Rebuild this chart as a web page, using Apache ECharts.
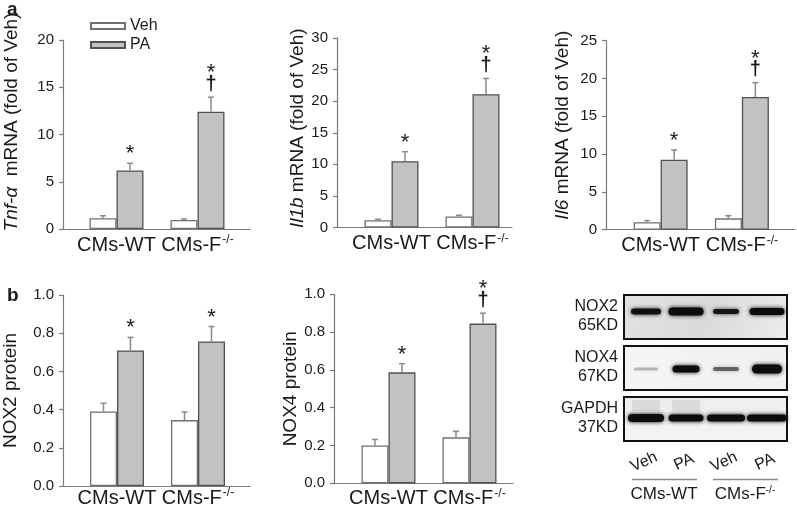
<!DOCTYPE html>
<html><head><meta charset="utf-8">
<script src="https://cdn.jsdelivr.net/npm/echarts@6/dist/echarts.min.js"></script>
<style>html,body{margin:0;padding:0;background:#fff}#c{width:797px;height:510px}</style>
</head><body><div id="c"></div>
<script>
// ---------------- data ----------------
const categories = ['CMs-WT', 'CMs-F'];
const seriesNames = ['Veh', 'PA'];

const tnfVeh = [1.15, 0.95];   const tnfVehErr = [0.25, 0.12];
const tnfPA  = [6.2, 12.4];    const tnfPAErr  = [0.75, 1.55];
const tnfSig = ['*', '*†'];

const il1bVeh = [1.15, 1.75];  const il1bVehErr = [0.15, 0.2];
const il1bPA  = [10.5, 21.1];  const il1bPAErr  = [1.5, 2.5];
const il1bSig = ['*', '*†'];

const il6Veh = [1.0, 1.5];     const il6VehErr = [0.2, 0.35];
const il6PA  = [9.25, 17.55];  const il6PAErr  = [1.3, 1.9];
const il6Sig = ['*', '*†'];

const nox2Veh = [0.39, 0.345]; const nox2VehErr = [0.043, 0.042];
const nox2PA  = [0.71, 0.757]; const nox2PAErr  = [0.068, 0.078];
const nox2Sig = ['*', '*'];

const nox4Veh = [0.2, 0.243];  const nox4VehErr = [0.032, 0.032];
const nox4PA  = [0.587, 0.845];const nox4PAErr  = [0.046, 0.055];
const nox4Sig = ['*', '*†'];

const yTicks1 = [0, 20, 5];
const yTicks2 = [0, 30, 5];
const yTicks3 = [0, 25, 5];
const yTicks4 = [0, 1, 0.2];
const yTicks5 = [0, 1, 0.2];

const blotRows = ['NOX2', 'NOX4', 'GAPDH'];
const blotKD = ['65KD', '67KD', '37KD'];
const laneLabels = ['Veh', 'PA', 'Veh', 'PA'];
const blotGroups = ['CMs-WT', 'CMs-F'];
// band appearance per row (width, thickness, intensity) for the 4 lanes
const bandW = [[30, 35, 26, 35], [24, 27, 26, 30], [36, 35, 38, 40]];
const bandH = [[6, 8, 5, 7], [3, 7, 4, 9], [8, 7, 7, 7]];
const bandI = [[0.95, 1, 0.9, 1], [0.25, 1, 0.55, 1], [1, 1, 1, 1]];

// ---------------- layout ----------------
const FONT = "'Liberation Sans', Arial, sans-serif";
const TXT = '#1a1a1a';
const AX = '#7a7a7a';
const BW = 27;

const panels = [
  {veh: tnfVeh, vehErr: tnfVehErr, pa: tnfPA, paErr: tnfPAErr, sig: tnfSig, ticks: yTicks1, dec: 0,
   name: '{i|Tnf-α}  mRNA (fold of Veh)', pad: 25, gap: 42,
   outer: {left: 63, top: 40, width: 187, height: 189}, inner: {left: 76, width: 162}, labMargin: 5},
  {veh: il1bVeh, vehErr: il1bVehErr, pa: il1bPA, paErr: il1bPAErr, sig: il1bSig, ticks: yTicks2, dec: 0,
   name: '{i|Il1b} mRNA (fold of Veh)', pad: 9, gap: 25,
   outer: {left: 337, top: 38, width: 175, height: 189.5}, inner: {left: 351, width: 162}, labMargin: 5},
  {veh: il6Veh, vehErr: il6VehErr, pa: il6PA, paErr: il6PAErr, sig: il6Sig, ticks: yTicks3, dec: 0,
   name: '{i|Il6} mRNA (fold of Veh)', pad: 20, gap: 34,
   outer: {left: 606, top: 40.7, width: 189, height: 189}, inner: {left: 620, width: 162.5}, labMargin: 5},
  {veh: nox2Veh, vehErr: nox2VehErr, pa: nox2PA, paErr: nox2PAErr, sig: nox2Sig, ticks: yTicks4, dec: 1,
   name: 'NOX2 protein', pad: 0, gap: 43,
   outer: {left: 63, top: 295, width: 187, height: 191}, inner: {left: 76.5, width: 162}, labMargin: 1},
  {veh: nox4Veh, vehErr: nox4VehErr, pa: nox4PA, paErr: nox4PAErr, sig: nox4Sig, ticks: yTicks5, dec: 1,
   name: 'NOX4 protein', pad: 0, gap: 34,
   outer: {left: 334, top: 294.3, width: 179, height: 189}, inner: {left: 348, width: 162}, labMargin: 4}
];

const grid = [], xAxis = [], yAxis = [], series = [];

function catLabel(v) {
  return v === 'CMs-F' ? '{n|CMs-F}{s|-/-}' : '{n|' + v + '}';
}

function errSeries(idx, vals, errs, sigs, side) {
  return {
    type: 'custom', xAxisIndex: idx, yAxisIndex: idx, clip: false, z: 5,
    silent: true,
    data: vals.map((v, i) => [i, v, errs[i]]),
    renderItem: function (params, api) {
      const i = api.value(0), v = api.value(1), e = api.value(2);
      const b = api.coord([i, v]);
      const t = api.coord([i, v + e]);
      const cx = b[0] + side * BW / 2;
      const ch = [
        {type: 'line', shape: {x1: cx, y1: b[1], x2: cx, y2: t[1]}, style: {stroke: '#8a8a8a', lineWidth: 1.5}},
        {type: 'line', shape: {x1: cx - 3, y1: t[1], x2: cx + 3, y2: t[1]}, style: {stroke: '#8a8a8a', lineWidth: 1.5}}
      ];
      if (sigs) {
        const s = sigs[params.dataIndex];
        if (s.indexOf('†') >= 0) {
          ch.push({type: 'text', style: {text: '†', x: cx, y: t[1] - 3, align: 'center', verticalAlign: 'bottom',
            font: 'bold 20px ' + FONT, fill: TXT}});
          ch.push({type: 'text', style: {text: '*', x: cx, y: t[1] - 13, align: 'center', verticalAlign: 'bottom',
            font: '22px ' + FONT, fill: TXT}});
        } else {
          ch.push({type: 'text', style: {text: '*', x: cx, y: t[1] + 2, align: 'center', verticalAlign: 'bottom',
            font: '22px ' + FONT, fill: TXT}});
        }
      }
      return {type: 'group', children: ch};
    }
  };
}

panels.forEach((p, k) => {
  const o = 2 * k, n = 2 * k + 1;
  grid.push({left: p.outer.left, top: p.outer.top, width: p.outer.width, height: p.outer.height});
  grid.push({left: p.inner.left, top: p.outer.top, width: p.inner.width, height: p.outer.height});
  xAxis.push({type: 'value', gridIndex: o, min: 0, max: 1, axisLine: {show: true, lineStyle: {color: AX, width: 1.2}},
    axisTick: {show: false}, axisLabel: {show: false}, splitLine: {show: false}});
  xAxis.push({type: 'category', gridIndex: n, data: categories, axisLine: {show: false}, axisTick: {show: false},
    axisLabel: {margin: p.labMargin, interval: 0, hideOverlap: false, formatter: catLabel, color: TXT,
      rich: {n: {fontSize: 20, fontFamily: FONT, color: TXT, lineHeight: 22},
             s: {fontSize: 12, fontFamily: FONT, color: TXT, verticalAlign: 'top', lineHeight: 12, padding: [0, 0, 0, 1]}}}});
  yAxis.push({type: 'value', gridIndex: o, min: p.ticks[0], max: p.ticks[1], interval: p.ticks[2],
    axisLine: {show: true, lineStyle: {color: AX, width: 1.2}},
    axisTick: {show: true, inside: false, length: 4, lineStyle: {color: AX, width: 1.2}},
    axisLabel: {margin: 9, fontSize: 15, color: TXT, fontFamily: FONT, formatter: v => v.toFixed(p.dec)},
    splitLine: {show: false},
    name: p.name, nameLocation: 'middle', nameRotate: 90, nameGap: p.gap,
    nameTextStyle: {fontSize: 19, color: TXT, fontFamily: FONT, padding: [0, 0, 0, p.pad],
      rich: {i: {fontSize: 19, fontStyle: 'italic', color: TXT, fontFamily: FONT}}}});
  yAxis.push({type: 'value', gridIndex: n, min: p.ticks[0], max: p.ticks[1], show: false});
  series.push({type: 'bar', name: seriesNames[0], xAxisIndex: n, yAxisIndex: n, data: p.veh, barWidth: BW, barGap: '0%',
    itemStyle: {color: '#ffffff', borderColor: '#707070', borderWidth: 1.3}, silent: true});
  series.push({type: 'bar', name: seriesNames[1], xAxisIndex: n, yAxisIndex: n, data: p.pa, barWidth: BW, barGap: '0%',
    itemStyle: {color: '#c2c2c2', borderColor: '#525252', borderWidth: 1.3}, silent: true});
  series.push(errSeries(n, p.veh, p.vehErr, null, -1));
  series.push(errSeries(n, p.pa, p.paErr, p.sig, 1));
});

// ---------------- western blot (picture panel) ----------------
const graphic = [];
graphic.push({type: 'text', left: 7, top: 0, style: {text: 'a', font: 'bold 19px ' + FONT, fill: TXT}});
graphic.push({type: 'text', left: 7, top: 286, style: {text: 'b', font: 'bold 19px ' + FONT, fill: TXT}});

const boxX = 624, boxW = 163, boxH = 44;
const boxTop = [295, 346, 397];
const bandOffset = [16.5, 23, 21];
const laneX = [646, 686, 726, 767];
const boxFill = [
  new echarts.graphic.LinearGradient(0, 0, 1, 1, [{offset: 0, color: '#e2e2e2'}, {offset: 0.5, color: '#dadada'}, {offset: 1, color: '#ececec'}]),
  new echarts.graphic.LinearGradient(0, 0, 1, 0, [{offset: 0, color: '#f5f5f5'}, {offset: 1, color: '#f0f0f0'}]),
  new echarts.graphic.LinearGradient(0, 0, 0, 1, [{offset: 0, color: '#eeeeee'}, {offset: 1, color: '#f4f4f4'}])
];
blotRows.forEach((r, ri) => {
  const top = boxTop[ri];
  graphic.push({type: 'rect', shape: {x: boxX, y: top, width: boxW, height: boxH},
    style: {fill: boxFill[ri], stroke: '#111', lineWidth: 2}, z: 10});
  if (ri === 2) {
    [0, 1].forEach(li => graphic.push({type: 'rect', shape: {x: laneX[li] - 14, y: top + 3, width: 28, height: 11},
      style: {fill: 'rgba(160,160,160,0.22)', shadowBlur: 6, shadowColor: 'rgba(160,160,160,0.4)'}, z: 11}));
  }
  laneX.forEach((lx, li) => {
    const w = bandW[ri][li], h = bandH[ri][li], a = bandI[ri][li];
    const cy = top + bandOffset[ri];
    graphic.push({type: 'rect', shape: {x: lx - w / 2, y: cy - h / 2, width: w, height: h, r: [h / 2, h / 2, h / 2, h / 2]},
      style: {fill: 'rgba(12,12,12,' + a + ')', shadowBlur: 4, shadowColor: 'rgba(12,12,12,' + a + ')'}, z: 12});
  });
  graphic.push({type: 'text', style: {text: r, x: 618, y: top + 12, align: 'right', verticalAlign: 'middle',
    font: '16px ' + FONT, fill: TXT}, z: 10});
  graphic.push({type: 'text', style: {text: blotKD[ri], x: 618, y: top + 30.5, align: 'right', verticalAlign: 'middle',
    font: '16px ' + FONT, fill: TXT}, z: 10});
});
laneLabels.forEach((t, li) => {
  graphic.push({type: 'text', x: laneX[li] - 2, y: 462, rotation: 25 * Math.PI / 180,
    style: {text: t, x: 0, y: 0, align: 'center', verticalAlign: 'middle', font: '16px ' + FONT, fill: TXT}, z: 10});
});
[[632, 697], [713, 778]].forEach(s => graphic.push({type: 'line', shape: {x1: s[0], y1: 479.5, x2: s[1], y2: 479.5},
  style: {stroke: '#8a8a8a', lineWidth: 1.5}, z: 10}));
graphic.push({type: 'text', style: {text: blotGroups[0], x: 664, y: 494, align: 'center', verticalAlign: 'middle',
  font: '17px ' + FONT, fill: TXT}, z: 10});
graphic.push({type: 'text', style: {text: '{n|' + blotGroups[1] + '}{s|-/-}', x: 745, y: 494, align: 'center', verticalAlign: 'middle',
  font: '17px ' + FONT, fill: TXT, rich: {n: {font: '17px ' + FONT, fill: TXT}, s: {font: '10px ' + FONT, fill: TXT, verticalAlign: 'top'}}}, z: 10});

const option = {
  animation: false,
  textStyle: {fontFamily: FONT},
  grid, xAxis, yAxis, series, graphic,
  legend: {data: seriesNames, orient: 'vertical', left: 85, top: 13, itemWidth: 34, itemHeight: 6, itemGap: 3,
    icon: 'rect', textStyle: {fontSize: 16, color: TXT, fontFamily: FONT, lineHeight: 16}, selectedMode: false}
};
const chart = echarts.init(document.getElementById('c'), null, {renderer: 'canvas'});
chart.setOption(option);
</script></body></html>
